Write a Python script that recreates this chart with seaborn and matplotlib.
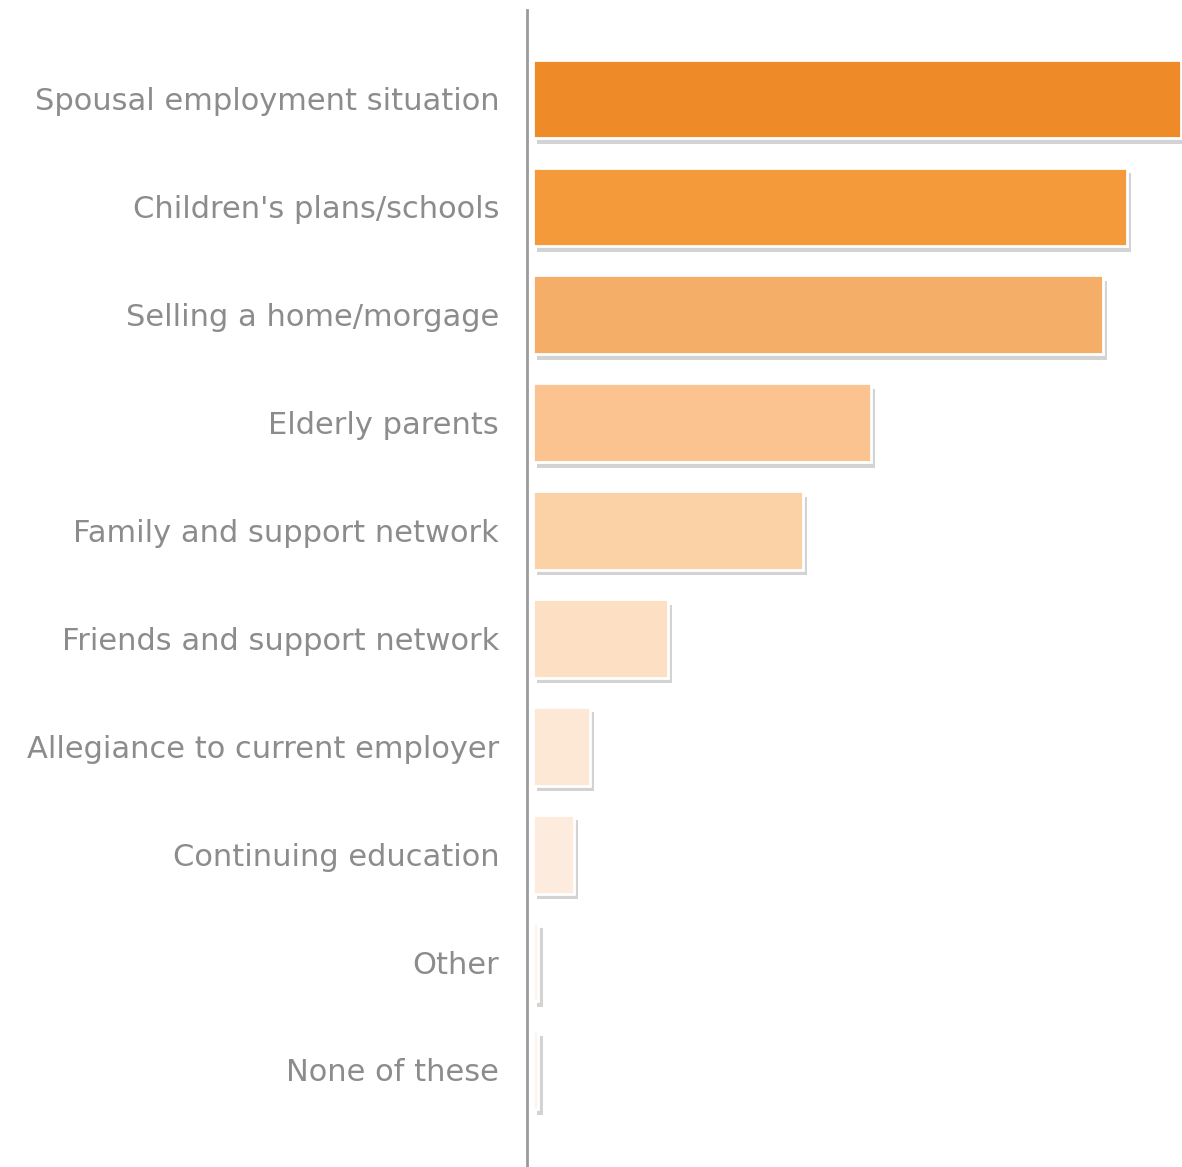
import matplotlib
matplotlib.use("Agg")
import matplotlib.pyplot as plt
import matplotlib.patheffects as pe
import seaborn as sns
import pandas as pd

factors = [
    "Spousal employment situation",
    "Children's plans/schools",
    "Selling a home/morgage",
    "Elderly parents",
    "Family and support network",
    "Friends and support network",
    "Allegiance to current employer",
    "Continuing education",
    "Other",
    "None of these",
]
shares = [48, 44, 42.2, 25, 20, 10, 4.2, 3, 0.4, 0.4]
bar_colors = ["#EE8A28", "#F49A3A", "#F5AE68", "#FBC38F", "#FBD2A6",
              "#FDDFC3", "#FDE8D6", "#FDEBDD", "#FEF3EA", "#FEF3EA"]

df = pd.DataFrame({"factor": factors, "share": shares})

sns.set_theme(style="white")
plt.rcParams["font.family"] = ["DejaVu Sans"]

fig = plt.figure(figsize=(11.82, 11.67), dpi=100)
ax = fig.add_axes([527 / 1182, 0.0, 1 - 527 / 1182, 1 - 10 / 1167])

sns.barplot(data=df, y="factor", x="share", hue="factor", palette=bar_colors,
            saturation=1, orient="h", width=0.73, legend=False, ax=ax,
            edgecolor="white", linewidth=2)

for patch in ax.patches:
    patch.set_path_effects([
        pe.SimplePatchShadow(offset=(3, -4), shadow_rgbFace="#a8a8a8", alpha=0.5),
        pe.Normal(),
    ])

ax.set_xlim(-0.45, 48.07)
ax.set_ylim(9.9, -0.825)
ax.set_xlabel("")
ax.set_ylabel("")
ax.set_xticks([])
ax.tick_params(axis="y", length=0, pad=20, labelsize=22, labelcolor="#8c8c8c")

for side in ("top", "right", "bottom"):
    ax.spines[side].set_visible(False)
ax.spines["left"].set_color("#9a9a9a")
ax.spines["left"].set_linewidth(2)

fig.savefig("out.png", dpi=100, facecolor="white")
